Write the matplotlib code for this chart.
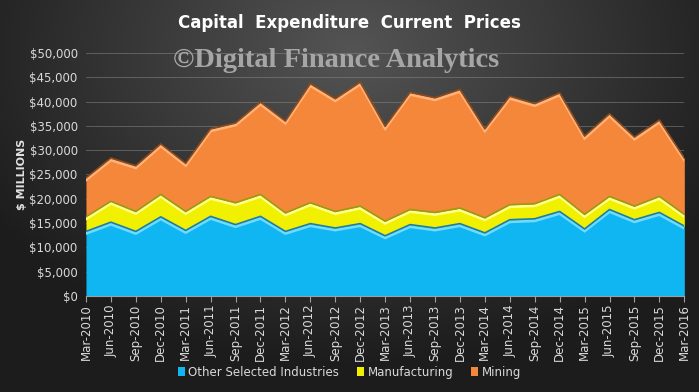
import numpy as np
import matplotlib
matplotlib.use("Agg")
import matplotlib.pyplot as plt

# quarters Mar-2010 .. Mar-2016
quarters = ["Mar-2010", "Jun-2010", "Sep-2010", "Dec-2010",
            "Mar-2011", "Jun-2011", "Sep-2011", "Dec-2011",
            "Mar-2012", "Jun-2012", "Sep-2012", "Dec-2012",
            "Mar-2013", "Jun-2013", "Sep-2013", "Dec-2013",
            "Mar-2014", "Jun-2014", "Sep-2014", "Dec-2014",
            "Mar-2015", "Jun-2015", "Sep-2015", "Dec-2015",
            "Mar-2016"]

# $ millions
other = [13200, 15100, 13200, 16200, 13400, 16300, 14600, 16300, 13200, 14800,
         13900, 14800, 12300, 14600, 13900, 14800, 12900, 15600, 15800, 17300,
         13700, 17700, 15600, 17100, 14300]
manufacturing = [3000, 4300, 4100, 4600, 3900, 4100, 4500, 4500, 3800, 4300,
                 3400, 3600, 3000, 3100, 3200, 3200, 3100, 3100, 3100, 3500,
                 3000, 2700, 2800, 3300, 2400]
mining = [8000, 8900, 9400, 10400, 9900, 13900, 16400, 19000, 18900, 24500,
          23200, 25500, 19500, 24100, 23600, 24400, 18300, 22300, 20600, 20900,
          16100, 17000, 14200, 15700, 11600]

series_names = ["Other Selected Industries", "Manufacturing", "Mining"]
colors = ["#0fb6f2", "#f0f000", "#f5873a"]
edge_dark = ["#1a7fa8", "#9a9a10", "#8a4a1c"]
edge_light = ["#6fdcff", "#ffff8a", "#ffb37a"]

narrow = ["Liberation Sans Narrow", "DejaVu Sans"]

fig = plt.figure(figsize=(6.99, 3.92), dpi=100)

# dark radial background
bg = fig.add_axes([0, 0, 1, 1], zorder=-5)
yy, xx = np.mgrid[0:392, 0:699]
r = np.sqrt(((xx - 350) / 480.0) ** 2 + ((yy - 50) / 360.0) ** 2)
shade = np.clip(0.33 - 0.25 * r, 0.11, 0.33)
bg.imshow(np.dstack([shade, shade, shade]), aspect="auto", extent=[0, 1, 0, 1])
bg.axis("off")

ax = fig.add_axes([0.123, 0.245, 0.856, 0.62])
ax.patch.set_alpha(0)
x = np.arange(len(quarters))

bottom = np.zeros(len(x))
handles = []
for vals, c, cd, cl, name in zip([other, manufacturing, mining], colors,
                                 edge_dark, edge_light, series_names):
    top = bottom + np.array(vals)
    h = ax.fill_between(x, bottom, top, color=c, lw=0, zorder=2, label=name)
    handles.append(h)
    ax.plot(x, top - 350, color=cl, lw=2.0, zorder=3, solid_joinstyle="miter")
    ax.plot(x, top + 80, color=cd, lw=1.2, zorder=3)
    bottom = top

ax.set_xlim(0, len(x) - 1)
ax.set_ylim(0, 50000)
ax.set_yticks(np.arange(0, 50001, 5000))
ax.set_yticklabels(["$0"] + ["${:,}".format(v) for v in range(5000, 50001, 5000)],
                   family=narrow, fontsize=8.5, color="#d9d9d9")
ax.set_xticks(x)
ax.set_xticklabels(quarters, rotation=90, family=narrow, fontsize=8.5,
                   color="#d9d9d9")
ax.grid(axis="y", color="#8a8a8a", lw=0.6, alpha=0.6, zorder=0)
ax.set_axisbelow(True)
for s in ["top", "right", "left"]:
    ax.spines[s].set_visible(False)
ax.spines["bottom"].set_color("#a0a0a0")
ax.tick_params(axis="y", length=0, pad=6)
ax.tick_params(axis="x", length=4, color="#a0a0a0", pad=2)

ax.set_ylabel("$ MILLIONS", fontsize=8, fontweight="bold", color="#e0e0e0",
              labelpad=2)

fig.text(0.5, 0.942, "Capital  Expenditure  Current  Prices", ha="center",
         va="center", fontsize=12, fontweight="bold", color="white")
fig.text(0.481, 0.845, "\u00a9Digital Finance Analytics", ha="center",
         va="center", fontsize=20.5, fontweight="bold", family="Liberation Serif",
         color="#a6a6a6", zorder=10)

leg = fig.legend(handles=handles, loc="center", bbox_to_anchor=(0.5, 0.05),
                 ncol=3, frameon=False, handlelength=0.6,
                 handleheight=0.8, columnspacing=1.5, handletextpad=0.3,
                 prop={"family": narrow, "size": 8.5})
for t in leg.get_texts():
    t.set_color("#d9d9d9")

fig.savefig("out.png", dpi=100)
